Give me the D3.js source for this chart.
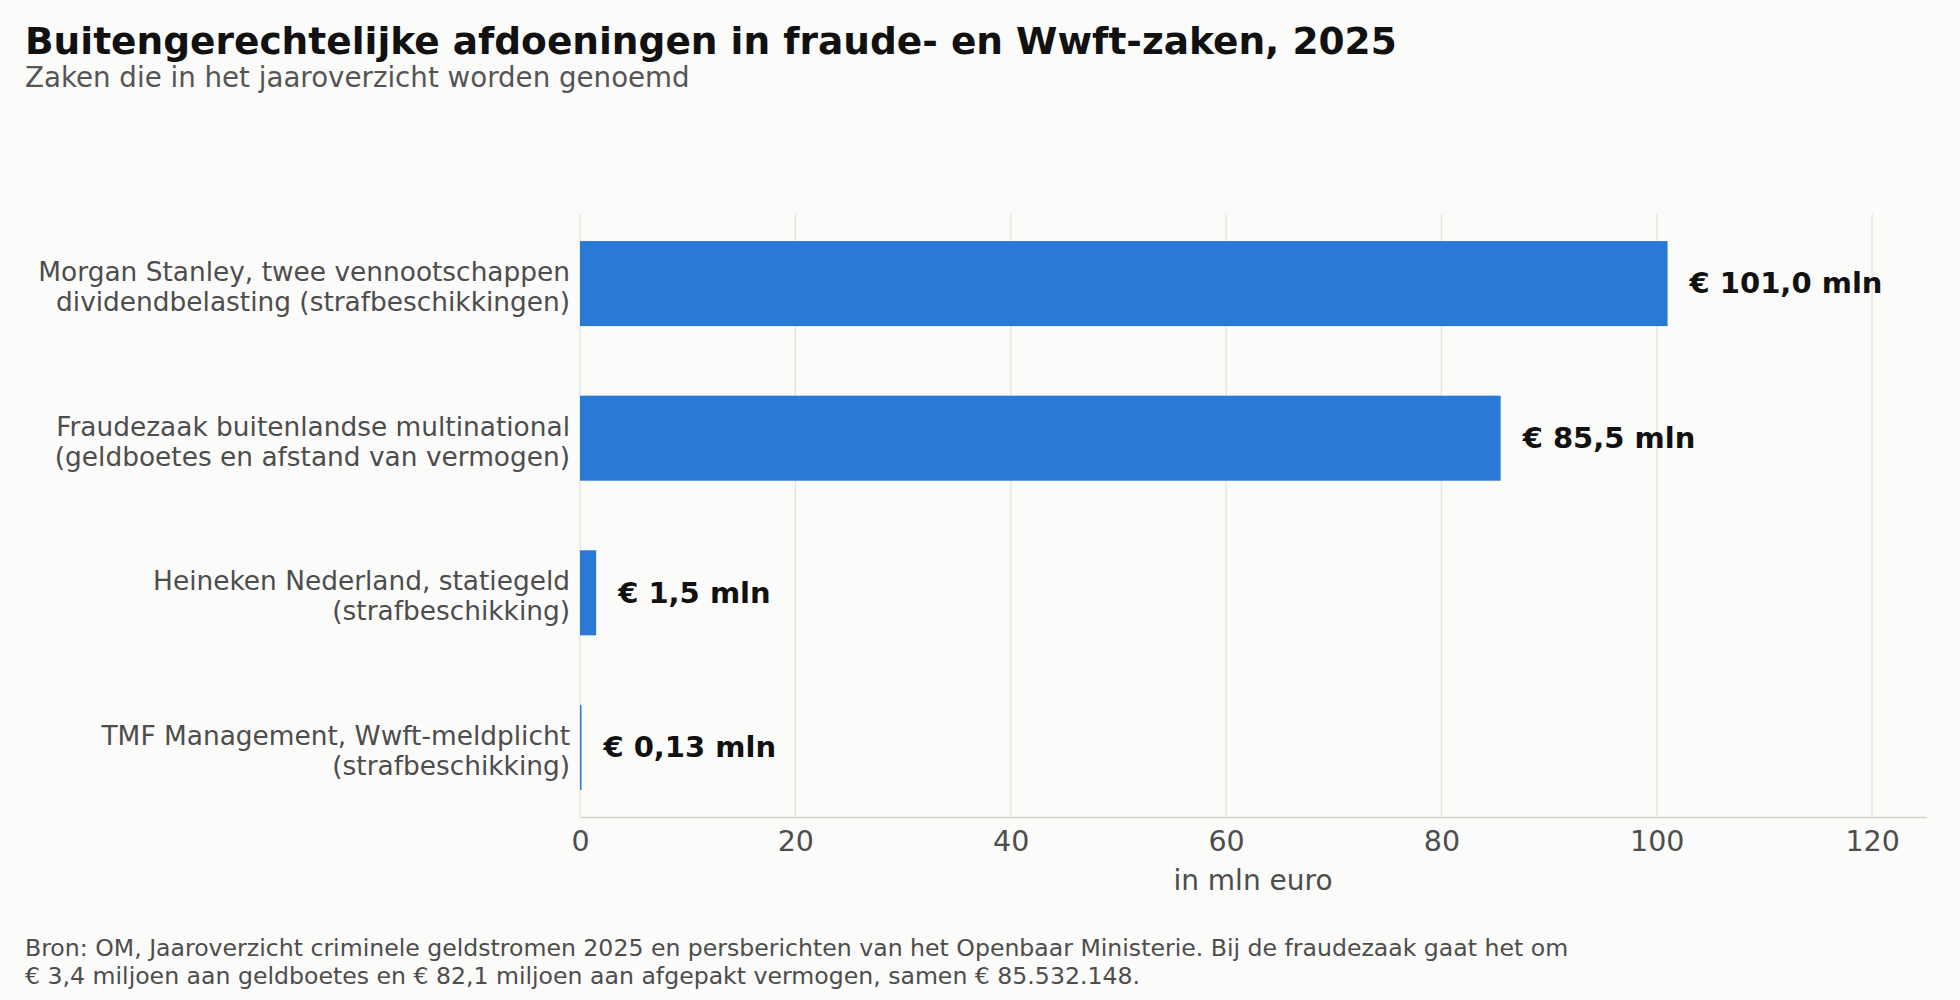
<!DOCTYPE html>
<head>
  <meta charset="utf-8">
  <script src="https://d3js.org/d3.v7.min.js"></script>
  <style>
    body { margin:0; background:#fbfbf9; }
    text { font-family: "DejaVu Sans", sans-serif; }
  </style>
</head>
<body>
  <script>
    // data
    var cases = [
      ['Morgan Stanley, twee vennootschappen', 'dividendbelasting (strafbeschikkingen)'],
      ['Fraudezaak buitenlandse multinational', '(geldboetes en afstand van vermogen)'],
      ['Heineken Nederland, statiegeld', '(strafbeschikking)'],
      ['TMF Management, Wwft-meldplicht', '(strafbeschikking)']
    ];
    var amounts = [101.0, 85.5, 1.5, 0.13];
    var amountLabels = ['€ 101,0 mln', '€ 85,5 mln', '€ 1,5 mln', '€ 0,13 mln'];
    var xTicks = [0, 20, 40, 60, 80, 100, 120];

    var width = 1960, height = 1000;
    var margin = {top: 214, right: 34, bottom: 183, left: 580};

    var svg = d3.select('body').append('svg')
      .attr('width', width)
      .attr('height', height)
      .style('background', '#fbfbf9');

    var x = d3.scaleLinear()
      .domain([0, 125])
      .range([margin.left, width - margin.right]);

    var y = d3.scaleBand()
      .domain(d3.range(cases.length))
      .range([margin.top, height - margin.bottom])
      .paddingInner(0.45)
      .paddingOuter(0.175);

    // gridlines
    svg.append('g')
      .selectAll('line')
      .data(xTicks)
      .enter().append('line')
      .attr('x1', function(d) { return x(d); })
      .attr('x2', function(d) { return x(d); })
      .attr('y1', margin.top)
      .attr('y2', height - margin.bottom)
      .attr('stroke', '#e6e6e2')
      .attr('stroke-width', 1.5);

    // bars
    svg.append('g')
      .selectAll('rect')
      .data(amounts)
      .enter().append('rect')
      .attr('x', x(0))
      .attr('y', function(d, i) { return y(i); })
      .attr('width', function(d) { return Math.max(x(d) - x(0), 1.5); })
      .attr('height', y.bandwidth())
      .attr('fill', '#2a7ad5');

    // value labels
    svg.append('g')
      .selectAll('text')
      .data(amounts)
      .enter().append('text')
      .attr('x', function(d) { return x(d) + 22; })
      .attr('y', function(d, i) { return y(i) + y.bandwidth() / 2; })
      .attr('dy', '0.34em')
      .attr('font-size', 29)
      .attr('font-weight', 'bold')
      .attr('fill', '#111')
      .text(function(d, i) { return amountLabels[i]; });

    // category labels
    var cat = svg.append('g')
      .selectAll('text')
      .data(cases)
      .enter().append('text')
      .attr('x', margin.left - 10)
      .attr('y', function(d, i) { return y(i) + y.bandwidth() / 2 + 4; })
      .attr('text-anchor', 'end')
      .attr('font-size', 26.4)
      .attr('fill', '#4d4d4d');
    cat.selectAll('tspan')
      .data(function(d) { return d; })
      .enter().append('tspan')
      .attr('x', margin.left - 10)
      .attr('dy', function(d, i) { return i == 0 ? '-0.25em' : '1.14em'; })
      .text(function(d) { return d; });

    // x axis
    var xAxis = svg.append('g')
      .attr('transform', 'translate(0,' + (height - margin.bottom) + ')')
      .call(d3.axisBottom(x).tickValues(xTicks).tickSize(0).tickPadding(14));
    xAxis.select('.domain').attr('stroke', '#d4d4d0').attr('stroke-width', 1.5);
    xAxis.selectAll('text')
      .attr('font-size', 28.5)
      .attr('font-family', 'DejaVu Sans')
      .attr('fill', '#4d4d4d');

    svg.append('text')
      .attr('x', (margin.left + width - margin.right) / 2)
      .attr('y', 890)
      .attr('text-anchor', 'middle')
      .attr('font-size', 28)
      .attr('fill', '#4d4d4d')
      .text('in mln euro');

    // title block
    svg.append('text')
      .attr('x', 25).attr('y', 54)
      .attr('font-size', 37.5)
      .attr('font-weight', 'bold')
      .attr('fill', '#111')
      .text('Buitengerechtelijke afdoeningen in fraude- en Wwft-zaken, 2025');
    svg.append('text')
      .attr('x', 25).attr('y', 86.5)
      .attr('font-size', 27.7)
      .attr('fill', '#555')
      .text('Zaken die in het jaaroverzicht worden genoemd');

    // footnote
    var foot = svg.append('text')
      .attr('x', 25).attr('y', 956)
      .attr('font-size', 23.6)
      .attr('fill', '#4d4d4d');
    foot.append('tspan').attr('x', 25)
      .text('Bron: OM, Jaaroverzicht criminele geldstromen 2025 en persberichten van het Openbaar Ministerie. Bij de fraudezaak gaat het om');
    foot.append('tspan').attr('x', 25).attr('dy', 27.5)
      .text('€ 3,4 miljoen aan geldboetes en € 82,1 miljoen aan afgepakt vermogen, samen € 85.532.148.');
  </script>
</body>
